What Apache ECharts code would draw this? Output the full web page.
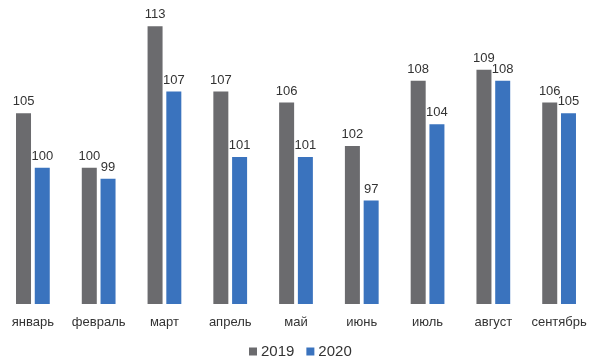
<!DOCTYPE html>
<html>
<head>
<meta charset="utf-8">
<script src="https://cdn.jsdelivr.net/npm/echarts@6/dist/echarts.min.js"></script>
<style>
  html, body { margin: 0; padding: 0; background: #fff; }
  #chart { width: 592px; height: 360px; }
</style>
</head>
<body>
<div id="chart"></div>
<script>
const months = ['январь', 'февраль', 'март', 'апрель', 'май', 'июнь', 'июль', 'август', 'сентябрь'];
const values2019 = [105, 100, 113, 107, 106, 102, 108, 109, 106];
const values2020 = [100, 99, 107, 101, 101, 97, 104, 108, 105];
const seriesNames = ['2019', '2020'];

const chart = echarts.init(document.getElementById('chart'), null, { renderer: 'canvas' });

const labelStyle = {
  show: true,
  position: 'top',
  distance: 5,
  color: '#333',
  fontFamily: 'Liberation Sans, Arial, sans-serif',
  fontSize: 13
};

chart.setOption({
  animation: false,
  backgroundColor: '#fff',
  textStyle: { fontFamily: 'Liberation Sans, Arial, sans-serif' },
  grid: { left: 0, right: 0, top: 0, bottom: 56, containLabel: false },
  legend: {
    bottom: -4,
    left: 244,
    itemWidth: 8,
    itemHeight: 8,
    itemGap: 12,
    icon: 'rect',
    textStyle: { fontSize: 15, color: '#333', padding: [0, 0, 0, -1] },
    data: seriesNames
  },
  xAxis: {
    type: 'category',
    data: months,
    axisLine: { show: false },
    axisTick: { show: false },
    axisLabel: { color: '#333', fontSize: 13, margin: 12, interval: 0 }
  },
  yAxis: {
    type: 'value',
    min: 87.5,
    max: 115.4,
    show: false,
    splitLine: { show: false }
  },
  series: [
    {
      name: seriesNames[0],
      type: 'bar',
      data: values2019,
      barWidth: 15,
      barGap: '25%',
      itemStyle: { color: '#6b6b6e' },
      label: labelStyle
    },
    {
      name: seriesNames[1],
      type: 'bar',
      data: values2020,
      barWidth: 15,
      barGap: '25%',
      itemStyle: { color: '#3a73be' },
      label: labelStyle
    }
  ]
});
</script>
</body>
</html>
